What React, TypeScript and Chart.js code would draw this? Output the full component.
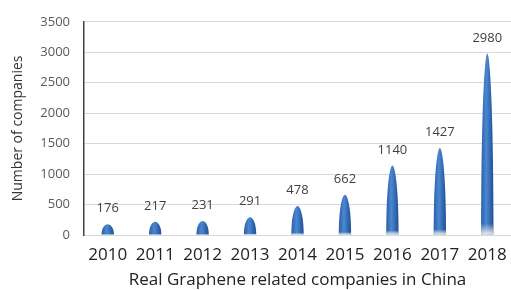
import React, { useEffect, useRef } from "react";
import { Chart, registerables } from "chart.js";

Chart.register(...registerables);

const years = ["2010", "2011", "2012", "2013", "2014", "2015", "2016", "2017", "2018"];
const companies = [176, 217, 231, 291, 478, 662, 1140, 1427, 2980];
const yMax = 3500;
const yStep = 500;
const yTitle = "Number of companies";
const xTitle = "Real Graphene related companies in China";

const FONT = "'Open Sans', 'DejaVu Sans', sans-serif";

const bulletBars = {
  id: "bulletBars",
  afterDatasetsDraw(chart: any) {
    const ctx = chart.ctx;
    const meta = chart.getDatasetMeta(0);
    meta.data.forEach((bar: any, i: number) => {
      const { x, y, base, width } = bar.getProps(["x", "y", "base", "width"], true);
      const h = base - y;
      const hw = width / 2;
      const path = () => {
        ctx.beginPath();
        ctx.moveTo(x - hw, base);
        ctx.bezierCurveTo(x - hw, y + h * 0.3, x - hw * 0.4, y, x, y);
        ctx.bezierCurveTo(x + hw * 0.4, y, x + hw, y + h * 0.3, x + hw, base);
        ctx.closePath();
      };
      ctx.save();
      const g = ctx.createLinearGradient(x - hw, 0, x + hw, 0);
      g.addColorStop(0, "#2a5fa8");
      g.addColorStop(0.42, "#4b87d1");
      g.addColorStop(1, "#1f4f94");
      path();
      ctx.fillStyle = g;
      ctx.fill();
      const fadeH = h * 0.06;
      if (fadeH > 1) {
        const v = ctx.createLinearGradient(0, base - fadeH, 0, base);
        v.addColorStop(0, "rgba(240,240,240,0)");
        v.addColorStop(1, "rgba(240,240,240,0.95)");
        path();
        ctx.fillStyle = v;
        ctx.fill();
      }
      ctx.fillStyle = "#404040";
      ctx.font = `13px ${FONT}`;
      ctx.textAlign = "center";
      ctx.textBaseline = "bottom";
      ctx.fillText(String(companies[i]), x, y - 9);
      ctx.restore();
    });
  },
};

export default function App() {
  const ref = useRef<HTMLCanvasElement>(null);
  useEffect(() => {
    document.body.style.margin = "0";
    const chart = new Chart(ref.current!, {
      type: "bar",
      data: {
        labels: years,
        datasets: [
          {
            data: companies,
            backgroundColor: "rgba(0,0,0,0)",
            borderWidth: 0,
            barPercentage: 0.26,
            categoryPercentage: 1,
          },
        ],
      },
      options: {
        responsive: false,
        animation: false,
        layout: { padding: { top: 17, right: 0, left: 0, bottom: 0 } },
        plugins: { legend: { display: false }, tooltip: { enabled: false } },
        scales: {
          x: {
            grid: { display: false },
            border: { display: false },
            ticks: { color: "#222", font: { family: FONT, size: 17 }, padding: 2, maxRotation: 0, autoSkip: false },
            title: {
              display: true,
              text: xTitle,
              color: "#222",
              font: { family: FONT, size: 17 },
              padding: { top: 0, bottom: 0 },
            },
            afterFit: (s: any) => {
              s.height = 55;
            },
          },
          y: {
            min: 0,
            max: yMax,
            ticks: {
              stepSize: yStep,
              color: "#595959",
              font: { family: FONT, size: 13 },
              padding: 14,
              callback: (v: any) => String(v),
            },
            grid: { color: "#d9d9d9", lineWidth: 1, drawTicks: false },
            border: { display: true, color: "#404040", width: 1.5 },
            title: {
              display: true,
              text: yTitle,
              color: "#333",
              font: { family: FONT, size: 14 },
              padding: { top: 10, bottom: 0 },
            },
            afterFit: (s: any) => {
              s.width = 84;
            },
          },
        },
      },
      plugins: [bulletBars],
    });
    return () => chart.destroy();
  }, []);
  return (
    <canvas
      ref={ref}
      width={511}
      height={290}
      style={{ display: "block", position: "absolute", left: 0, top: 0, width: 511, height: 290 }}
    />
  );
}
